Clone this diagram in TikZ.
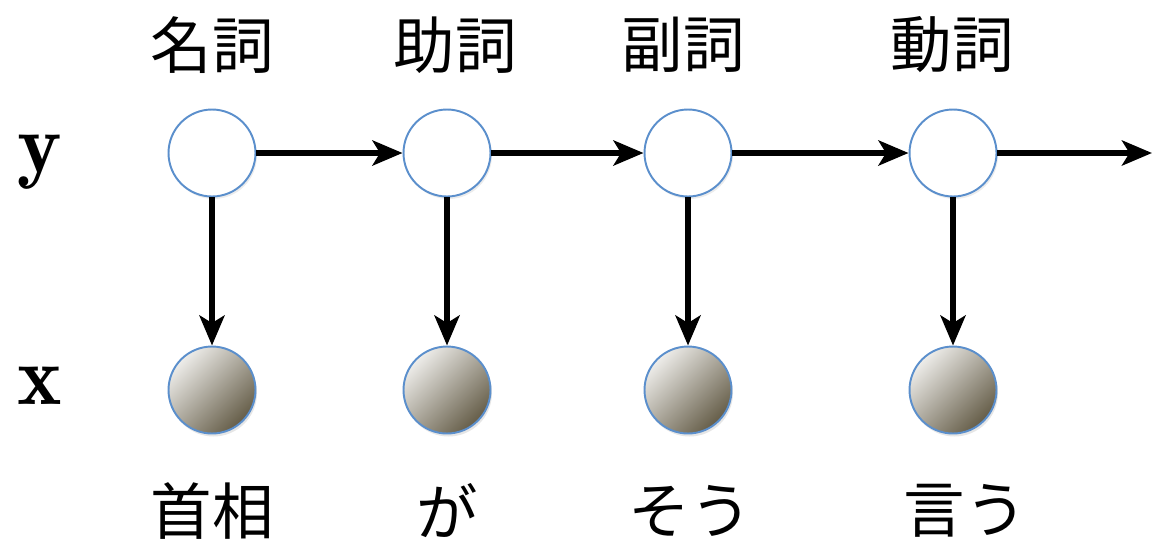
\documentclass[tikz,border=0pt]{standalone}
\usepackage{fontspec}
\newfontfamily\jp{Noto Sans CJK JP}
\usetikzlibrary{arrows.meta,shadows}
\definecolor{ringblue}{HTML}{5B8FCC}
\definecolor{darkball}{HTML}{655D48}
\definecolor{midball}{HTML}{BAB6AC}
\definecolor{lightball}{HTML}{EEEDEA}
\tikzset{
  hid/.style={circle,draw=ringblue,line width=1.1pt,fill=white,minimum size=1.74cm,inner sep=0pt,drop shadow={opacity=0.15,shadow xshift=0.03cm,shadow yshift=-0.05cm}},
  obs/.style={circle,draw=ringblue,line width=1.1pt,minimum size=1.74cm,inner sep=0pt,top color=lightball,middle color=midball,bottom color=darkball,shading angle=45,drop shadow={opacity=0.2,shadow xshift=0.03cm,shadow yshift=-0.06cm}},
  conn/.style={line width=3.4pt,-{Stealth[length=0.6cm,width=0.5cm,inset=0.15cm]}},
  lab/.style={font=\jp\fontsize{35}{40}\selectfont,inner sep=0pt},
  var/.style={font=\fontsize{48}{52}\selectfont,inner sep=0pt}
}
\begin{document}
\begin{tikzpicture}[x=0.02cm,y=-0.02cm]
\useasboundingbox (0,0) rectangle (1152,542);
\node[hid] (y1) at (212,153) {};
\node[hid] (y2) at (447,153) {};
\node[hid] (y3) at (688,153) {};
\node[hid] (y4) at (953,153) {};
\coordinate (yend) at (1152,153);
\node[obs] (x1) at (212,390) {};
\node[obs] (x2) at (447,390) {};
\node[obs] (x3) at (688,390) {};
\node[obs] (x4) at (953,390) {};
\draw[conn] (y1) -- (y2);
\draw[conn] (y2) -- (y3);
\draw[conn] (y3) -- (y4);
\draw[conn] (y4) -- (yend);
\foreach \i in {1,2,3,4} {\draw[conn] (y\i) -- (x\i);}
\node[lab] (t1) at (212,45) {名詞};
\node[lab] (t2) at (455,45) {助詞};
\node[lab] (t3) at (683,45) {副詞};
\node[lab] (t4) at (952,45) {動詞};
\node[lab] (b1) at (212,511) {首相};
\node[lab] (b2) at (447,511) {が};
\node[lab] (b3) at (690,511) {そう};
\node[lab] (b4) at (965,511) {言う};
\node[var] (vy) at (40,162) {$\mathbf{y}$};
\node[var] (vx) at (40,386) {$\mathbf{x}$};
\end{tikzpicture}
\end{document}
